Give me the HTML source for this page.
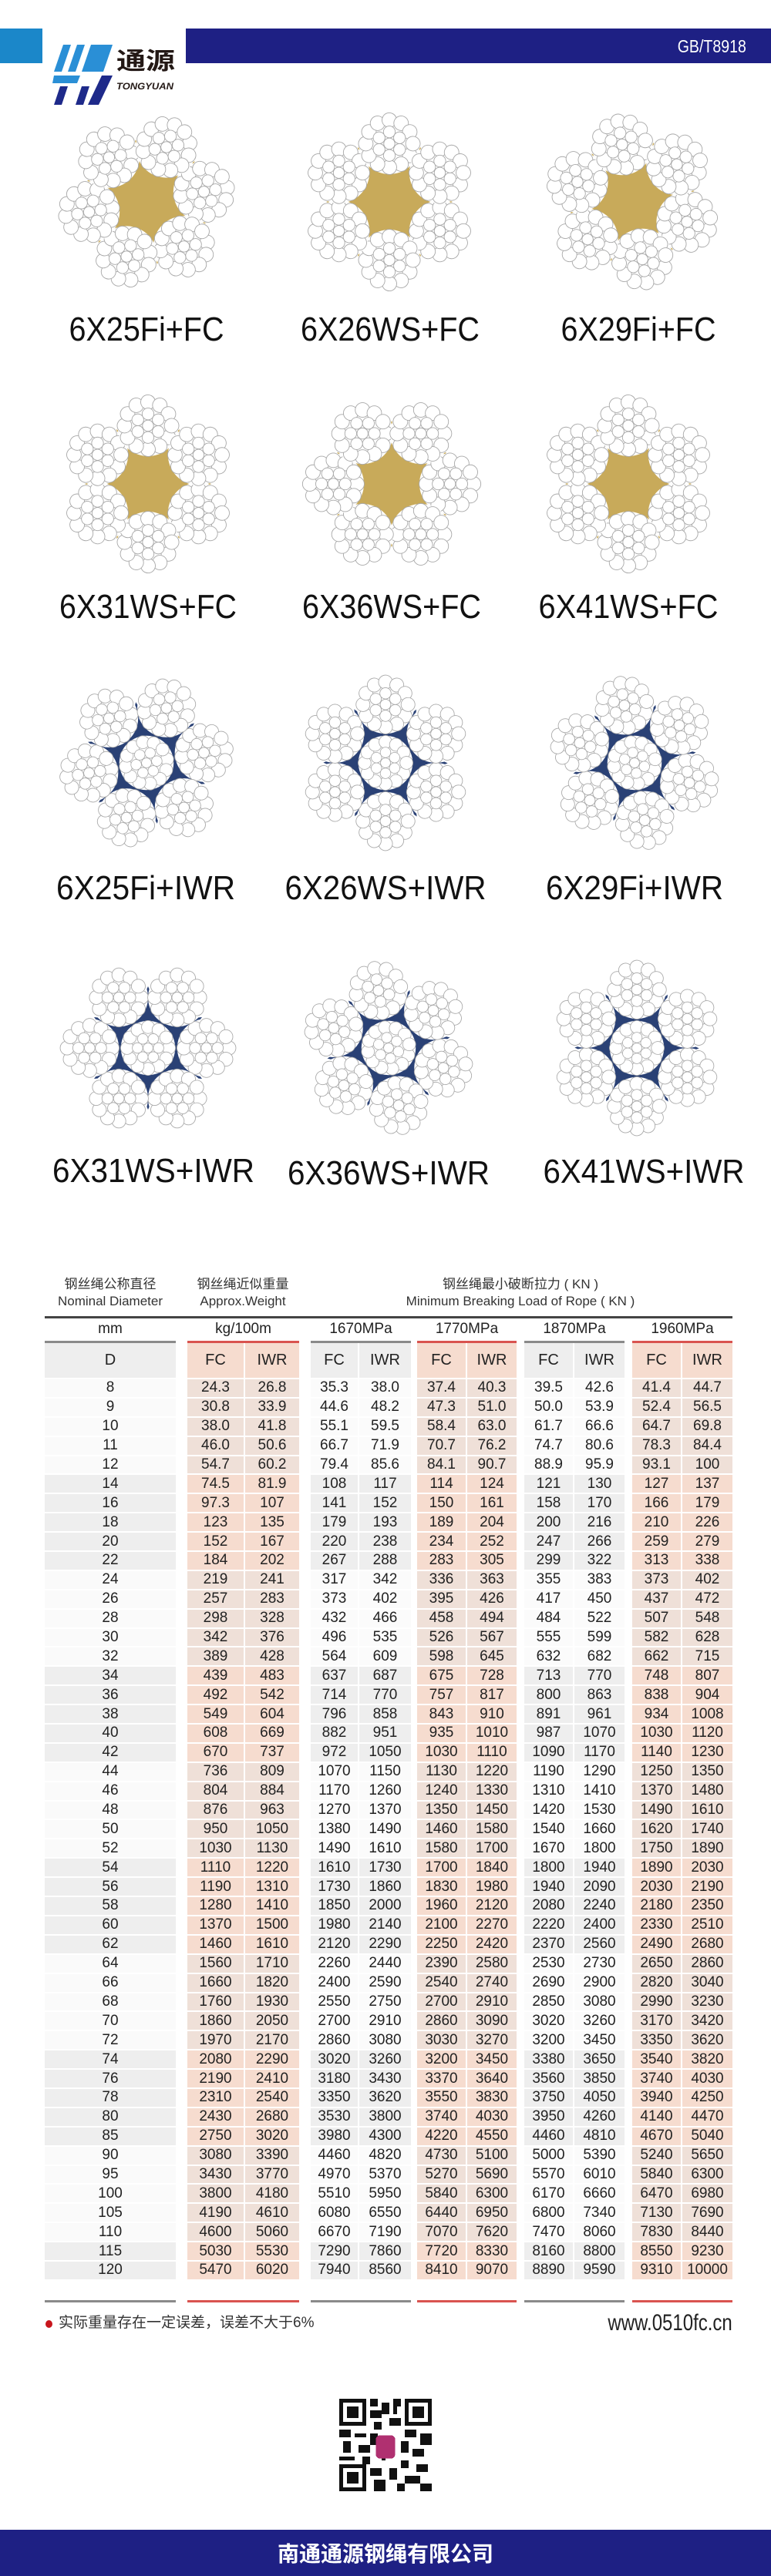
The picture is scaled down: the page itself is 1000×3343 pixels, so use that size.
<!DOCTYPE html>
<html><head><meta charset="utf-8">
<style>
*{margin:0;padding:0;box-sizing:border-box}
body{width:1000px;height:3343px;position:relative;background:#fff;font-family:"Liberation Sans","Noto Sans CJK SC",sans-serif;color:#222;overflow:hidden}
.abs{position:absolute}
.tb{position:absolute;top:1790px;left:0;width:1000px}
.r{height:24.9px;position:relative}
.r span{position:absolute;top:0;height:100%;display:flex;align-items:center;justify-content:center;font-size:19px;border-bottom:2px solid #fff;background:#efe0d8}
.r span:nth-child(1){left:58px;width:170px;background:#fafafa}
.r span:nth-child(2){left:243px;width:75px;border-right:2px solid #fff}
.r span:nth-child(3){left:318px;width:70px}
.r span:nth-child(4){left:403px;width:63px;border-right:2px solid #fff;background:#fbfbfb}
.r span:nth-child(5){left:466px;width:67px;background:#fbfbfb}
.r span:nth-child(6){left:541px;width:65px;border-right:2px solid #fff}
.r span:nth-child(7){left:606px;width:64px}
.r span:nth-child(8){left:680px;width:65px;border-right:2px solid #fff;background:#fbfbfb}
.r span:nth-child(9){left:745px;width:65px;background:#fbfbfb}
.r span:nth-child(10){left:820px;width:65px;border-right:2px solid #fff}
.r span:nth-child(11){left:885px;width:65px}
.r.b span{background:#f6dccf}
.r.b span:nth-child(1),.r.b span:nth-child(4),.r.b span:nth-child(5),.r.b span:nth-child(8),.r.b span:nth-child(9){background:#eeeeee}
.hd{height:47px}
.hd span{font-size:20px}
.ln{position:absolute;height:3px}
.g{background:#8a8a8a}.rd{background:#d9534f}
.ctr{position:absolute;text-align:center;white-space:nowrap}
</style></head><body>

<!-- header -->
<div class="abs" style="left:0;top:37px;width:55px;height:45px;background:#1b87c9"></div>
<div class="abs" style="left:241px;top:37px;width:759px;height:45px;background:#1e2084"></div>
<div class="abs" style="right:32px;top:47px;color:#fff;font-size:23px;line-height:26px;transform:scaleX(0.85);transform-origin:right">GB/T8918</div>
<svg class="abs" style="left:66px;top:28px" width="180" height="142">
 <polygon points="16,30 26,30 14,65 4,65" fill="#2a8fd6"/>
 <polygon points="34,30 44,30 32,65 22,65" fill="#2a8fd6"/>
 <polygon points="52,30 80,30 68,65 40,65" fill="#2a8fd6"/>
 <polygon points="4,70 38,70 34,80 2,80" fill="#2a8fd6"/>
 <polygon points="12,84 22,84 14,108 4,108" fill="#1e2a8a"/>
 <polygon points="40,84 50,84 42,108 32,108" fill="#1e2a8a"/>
 <polygon points="66,70 80,70 62,108 48,108" fill="#1e2a8a"/>
 <text x="85" y="62" font-family="Noto Sans CJK SC,sans-serif" font-weight="bold" font-size="31" fill="#231815" textLength="76" lengthAdjust="spacingAndGlyphs">通源</text>
 <text x="85" y="88" font-family="Liberation Sans,sans-serif" font-style="italic" font-weight="bold" font-size="12" fill="#231815" textLength="74" lengthAdjust="spacingAndGlyphs">TONGYUAN</text>
</svg>

<!-- ropes -->
<svg class="abs" style="left:0;top:0" width="1000" height="1560">
<defs>
 <g id="st" fill="#fff" stroke="#a8a8a8" stroke-width="1">
  <circle cx="0" cy="0" r="44" stroke="none"/>
  <circle cx="34" cy="0" r="10.5"/><circle cx="29.4" cy="17" r="10.5"/><circle cx="17" cy="29.4" r="10.5"/><circle cx="0" cy="34" r="10.5"/><circle cx="-17" cy="29.4" r="10.5"/><circle cx="-29.4" cy="17" r="10.5"/><circle cx="-34" cy="0" r="10.5"/><circle cx="-29.4" cy="-17" r="10.5"/><circle cx="-17" cy="-29.4" r="10.5"/><circle cx="0" cy="-34" r="10.5"/><circle cx="17" cy="-29.4" r="10.5"/><circle cx="29.4" cy="-17" r="10.5"/>
  <circle cx="17" cy="0" r="8.5"/><circle cx="8.5" cy="14.7" r="8.5"/><circle cx="-8.5" cy="14.7" r="8.5"/><circle cx="-17" cy="0" r="8.5"/><circle cx="-8.5" cy="-14.7" r="8.5"/><circle cx="8.5" cy="-14.7" r="8.5"/><circle cx="0" cy="0" r="8"/>
 </g>
 <g id="fc">
  <polygon points="71,41 20,35 0,82 -20,35 -71,41 -40,0 -71,-41 -20,-35 0,-82 20,-35 71,-41 40,0" fill="#c8aa5a"/>
  <g transform="scale(0.9)"><use href="#st" x="84" y="0"/><use href="#st" x="42" y="72.7"/><use href="#st" x="-42" y="72.7"/><use href="#st" x="-84" y="0"/><use href="#st" x="-42" y="-72.7"/><use href="#st" x="42" y="-72.7"/></g>
 </g>
 <g id="iwr">
  <polygon points="70,40 20,35 0,80 -20,35 -70,40 -40,0 -70,-40 -20,-35 0,-80 20,-35 70,-40 40,0" fill="#2a4175"/>
  <g transform="scale(0.8)"><use href="#st" x="0" y="0"/></g>
  <g transform="scale(0.86)"><use href="#st" x="88" y="0"/><use href="#st" x="44" y="76.2"/><use href="#st" x="-44" y="76.2"/><use href="#st" x="-88" y="0"/><use href="#st" x="-44" y="-76.2"/><use href="#st" x="44" y="-76.2"/></g>
 </g>
</defs>
<use href="#fc" transform="translate(190,262) rotate(-10)"/>
<use href="#fc" transform="translate(505,262) rotate(30)"/>
<use href="#fc" transform="translate(820,262) rotate(20)"/>
<use href="#fc" transform="translate(192,628) rotate(30)"/>
<use href="#fc" transform="translate(508,628)"/>
<use href="#fc" transform="translate(815,628) rotate(30)"/>
<use href="#iwr" transform="translate(190,990) rotate(-10)"/>
<use href="#iwr" transform="translate(500,990) rotate(30)"/>
<use href="#iwr" transform="translate(823,990) rotate(20)"/>
<use href="#iwr" transform="translate(192,1360)"/>
<use href="#iwr" transform="translate(504,1360) rotate(20)"/>
<use href="#iwr" transform="translate(826,1360) rotate(30)"/>
<g font-family="Liberation Sans,sans-serif" font-size="44" fill="#111" text-anchor="middle">
 <text x="190" y="442" textLength="201" lengthAdjust="spacingAndGlyphs">6X25Fi+FC</text>
 <text x="506" y="442" textLength="232" lengthAdjust="spacingAndGlyphs">6X26WS+FC</text>
 <text x="828" y="442" textLength="201" lengthAdjust="spacingAndGlyphs">6X29Fi+FC</text>
 <text x="192" y="802" textLength="230" lengthAdjust="spacingAndGlyphs">6X31WS+FC</text>
 <text x="508" y="802" textLength="232" lengthAdjust="spacingAndGlyphs">6X36WS+FC</text>
 <text x="815" y="802" textLength="233" lengthAdjust="spacingAndGlyphs">6X41WS+FC</text>
 <text x="189" y="1167" textLength="232" lengthAdjust="spacingAndGlyphs">6X25Fi+IWR</text>
 <text x="500" y="1167" textLength="261" lengthAdjust="spacingAndGlyphs">6X26WS+IWR</text>
 <text x="823" y="1167" textLength="230" lengthAdjust="spacingAndGlyphs">6X29Fi+IWR</text>
 <text x="199" y="1534" textLength="262" lengthAdjust="spacingAndGlyphs">6X31WS+IWR</text>
 <text x="504" y="1537" textLength="262" lengthAdjust="spacingAndGlyphs">6X36WS+IWR</text>
 <text x="835" y="1535" textLength="261" lengthAdjust="spacingAndGlyphs">6X41WS+IWR</text>
</g>
</svg>

<!-- table headings -->
<div class="ctr" style="left:58px;width:170px;top:1656px;font-size:17px;line-height:22px;color:#333">钢丝绳公称直径<br>Nominal Diameter</div>
<div class="ctr" style="left:235px;width:160px;top:1656px;font-size:17px;line-height:22px;color:#333">钢丝绳近似重量<br>Approx.Weight</div>
<div class="ctr" style="left:420px;width:510px;top:1656px;font-size:17px;line-height:22px;color:#333">钢丝绳最小破断拉力 ( KN )<br>Minimum Breaking Load of Rope ( KN )</div>
<div class="ln" style="left:58px;width:892px;top:1708px;background:#444"></div>
<div class="ctr" style="left:58px;width:170px;top:1714px;font-size:19px">mm</div>
<div class="ctr" style="left:243px;width:145px;top:1714px;font-size:19px">kg/100m</div>
<div class="ctr" style="left:403px;width:130px;top:1714px;font-size:19px">1670MPa</div>
<div class="ctr" style="left:541px;width:129px;top:1714px;font-size:19px">1770MPa</div>
<div class="ctr" style="left:680px;width:130px;top:1714px;font-size:19px">1870MPa</div>
<div class="ctr" style="left:820px;width:130px;top:1714px;font-size:19px">1960MPa</div>
<div class="ln g" style="left:58px;width:170px;top:1740px"></div>
<div class="ln rd" style="left:243px;width:145px;top:1740px"></div>
<div class="ln g" style="left:403px;width:130px;top:1740px"></div>
<div class="ln rd" style="left:541px;width:129px;top:1740px"></div>
<div class="ln g" style="left:680px;width:130px;top:1740px"></div>
<div class="ln rd" style="left:820px;width:130px;top:1740px"></div>
<div class="tb" style="top:1743px">
<div class="r b hd"><span>D</span><span>FC</span><span>IWR</span><span>FC</span><span>IWR</span><span>FC</span><span>IWR</span><span>FC</span><span>IWR</span><span>FC</span><span>IWR</span></div>
</div>

<div class="tb">
<div class="r"><span>8</span><span>24.3</span><span>26.8</span><span>35.3</span><span>38.0</span><span>37.4</span><span>40.3</span><span>39.5</span><span>42.6</span><span>41.4</span><span>44.7</span></div>
<div class="r"><span>9</span><span>30.8</span><span>33.9</span><span>44.6</span><span>48.2</span><span>47.3</span><span>51.0</span><span>50.0</span><span>53.9</span><span>52.4</span><span>56.5</span></div>
<div class="r"><span>10</span><span>38.0</span><span>41.8</span><span>55.1</span><span>59.5</span><span>58.4</span><span>63.0</span><span>61.7</span><span>66.6</span><span>64.7</span><span>69.8</span></div>
<div class="r"><span>11</span><span>46.0</span><span>50.6</span><span>66.7</span><span>71.9</span><span>70.7</span><span>76.2</span><span>74.7</span><span>80.6</span><span>78.3</span><span>84.4</span></div>
<div class="r"><span>12</span><span>54.7</span><span>60.2</span><span>79.4</span><span>85.6</span><span>84.1</span><span>90.7</span><span>88.9</span><span>95.9</span><span>93.1</span><span>100</span></div>
<div class="r b"><span>14</span><span>74.5</span><span>81.9</span><span>108</span><span>117</span><span>114</span><span>124</span><span>121</span><span>130</span><span>127</span><span>137</span></div>
<div class="r b"><span>16</span><span>97.3</span><span>107</span><span>141</span><span>152</span><span>150</span><span>161</span><span>158</span><span>170</span><span>166</span><span>179</span></div>
<div class="r b"><span>18</span><span>123</span><span>135</span><span>179</span><span>193</span><span>189</span><span>204</span><span>200</span><span>216</span><span>210</span><span>226</span></div>
<div class="r b"><span>20</span><span>152</span><span>167</span><span>220</span><span>238</span><span>234</span><span>252</span><span>247</span><span>266</span><span>259</span><span>279</span></div>
<div class="r b"><span>22</span><span>184</span><span>202</span><span>267</span><span>288</span><span>283</span><span>305</span><span>299</span><span>322</span><span>313</span><span>338</span></div>
<div class="r"><span>24</span><span>219</span><span>241</span><span>317</span><span>342</span><span>336</span><span>363</span><span>355</span><span>383</span><span>373</span><span>402</span></div>
<div class="r"><span>26</span><span>257</span><span>283</span><span>373</span><span>402</span><span>395</span><span>426</span><span>417</span><span>450</span><span>437</span><span>472</span></div>
<div class="r"><span>28</span><span>298</span><span>328</span><span>432</span><span>466</span><span>458</span><span>494</span><span>484</span><span>522</span><span>507</span><span>548</span></div>
<div class="r"><span>30</span><span>342</span><span>376</span><span>496</span><span>535</span><span>526</span><span>567</span><span>555</span><span>599</span><span>582</span><span>628</span></div>
<div class="r"><span>32</span><span>389</span><span>428</span><span>564</span><span>609</span><span>598</span><span>645</span><span>632</span><span>682</span><span>662</span><span>715</span></div>
<div class="r b"><span>34</span><span>439</span><span>483</span><span>637</span><span>687</span><span>675</span><span>728</span><span>713</span><span>770</span><span>748</span><span>807</span></div>
<div class="r b"><span>36</span><span>492</span><span>542</span><span>714</span><span>770</span><span>757</span><span>817</span><span>800</span><span>863</span><span>838</span><span>904</span></div>
<div class="r b"><span>38</span><span>549</span><span>604</span><span>796</span><span>858</span><span>843</span><span>910</span><span>891</span><span>961</span><span>934</span><span>1008</span></div>
<div class="r b"><span>40</span><span>608</span><span>669</span><span>882</span><span>951</span><span>935</span><span>1010</span><span>987</span><span>1070</span><span>1030</span><span>1120</span></div>
<div class="r b"><span>42</span><span>670</span><span>737</span><span>972</span><span>1050</span><span>1030</span><span>1110</span><span>1090</span><span>1170</span><span>1140</span><span>1230</span></div>
<div class="r"><span>44</span><span>736</span><span>809</span><span>1070</span><span>1150</span><span>1130</span><span>1220</span><span>1190</span><span>1290</span><span>1250</span><span>1350</span></div>
<div class="r"><span>46</span><span>804</span><span>884</span><span>1170</span><span>1260</span><span>1240</span><span>1330</span><span>1310</span><span>1410</span><span>1370</span><span>1480</span></div>
<div class="r"><span>48</span><span>876</span><span>963</span><span>1270</span><span>1370</span><span>1350</span><span>1450</span><span>1420</span><span>1530</span><span>1490</span><span>1610</span></div>
<div class="r"><span>50</span><span>950</span><span>1050</span><span>1380</span><span>1490</span><span>1460</span><span>1580</span><span>1540</span><span>1660</span><span>1620</span><span>1740</span></div>
<div class="r"><span>52</span><span>1030</span><span>1130</span><span>1490</span><span>1610</span><span>1580</span><span>1700</span><span>1670</span><span>1800</span><span>1750</span><span>1890</span></div>
<div class="r b"><span>54</span><span>1110</span><span>1220</span><span>1610</span><span>1730</span><span>1700</span><span>1840</span><span>1800</span><span>1940</span><span>1890</span><span>2030</span></div>
<div class="r b"><span>56</span><span>1190</span><span>1310</span><span>1730</span><span>1860</span><span>1830</span><span>1980</span><span>1940</span><span>2090</span><span>2030</span><span>2190</span></div>
<div class="r b"><span>58</span><span>1280</span><span>1410</span><span>1850</span><span>2000</span><span>1960</span><span>2120</span><span>2080</span><span>2240</span><span>2180</span><span>2350</span></div>
<div class="r b"><span>60</span><span>1370</span><span>1500</span><span>1980</span><span>2140</span><span>2100</span><span>2270</span><span>2220</span><span>2400</span><span>2330</span><span>2510</span></div>
<div class="r b"><span>62</span><span>1460</span><span>1610</span><span>2120</span><span>2290</span><span>2250</span><span>2420</span><span>2370</span><span>2560</span><span>2490</span><span>2680</span></div>
<div class="r"><span>64</span><span>1560</span><span>1710</span><span>2260</span><span>2440</span><span>2390</span><span>2580</span><span>2530</span><span>2730</span><span>2650</span><span>2860</span></div>
<div class="r"><span>66</span><span>1660</span><span>1820</span><span>2400</span><span>2590</span><span>2540</span><span>2740</span><span>2690</span><span>2900</span><span>2820</span><span>3040</span></div>
<div class="r"><span>68</span><span>1760</span><span>1930</span><span>2550</span><span>2750</span><span>2700</span><span>2910</span><span>2850</span><span>3080</span><span>2990</span><span>3230</span></div>
<div class="r"><span>70</span><span>1860</span><span>2050</span><span>2700</span><span>2910</span><span>2860</span><span>3090</span><span>3020</span><span>3260</span><span>3170</span><span>3420</span></div>
<div class="r"><span>72</span><span>1970</span><span>2170</span><span>2860</span><span>3080</span><span>3030</span><span>3270</span><span>3200</span><span>3450</span><span>3350</span><span>3620</span></div>
<div class="r b"><span>74</span><span>2080</span><span>2290</span><span>3020</span><span>3260</span><span>3200</span><span>3450</span><span>3380</span><span>3650</span><span>3540</span><span>3820</span></div>
<div class="r b"><span>76</span><span>2190</span><span>2410</span><span>3180</span><span>3430</span><span>3370</span><span>3640</span><span>3560</span><span>3850</span><span>3740</span><span>4030</span></div>
<div class="r b"><span>78</span><span>2310</span><span>2540</span><span>3350</span><span>3620</span><span>3550</span><span>3830</span><span>3750</span><span>4050</span><span>3940</span><span>4250</span></div>
<div class="r b"><span>80</span><span>2430</span><span>2680</span><span>3530</span><span>3800</span><span>3740</span><span>4030</span><span>3950</span><span>4260</span><span>4140</span><span>4470</span></div>
<div class="r b"><span>85</span><span>2750</span><span>3020</span><span>3980</span><span>4300</span><span>4220</span><span>4550</span><span>4460</span><span>4810</span><span>4670</span><span>5040</span></div>
<div class="r"><span>90</span><span>3080</span><span>3390</span><span>4460</span><span>4820</span><span>4730</span><span>5100</span><span>5000</span><span>5390</span><span>5240</span><span>5650</span></div>
<div class="r"><span>95</span><span>3430</span><span>3770</span><span>4970</span><span>5370</span><span>5270</span><span>5690</span><span>5570</span><span>6010</span><span>5840</span><span>6300</span></div>
<div class="r"><span>100</span><span>3800</span><span>4180</span><span>5510</span><span>5950</span><span>5840</span><span>6300</span><span>6170</span><span>6660</span><span>6470</span><span>6980</span></div>
<div class="r"><span>105</span><span>4190</span><span>4610</span><span>6080</span><span>6550</span><span>6440</span><span>6950</span><span>6800</span><span>7340</span><span>7130</span><span>7690</span></div>
<div class="r"><span>110</span><span>4600</span><span>5060</span><span>6670</span><span>7190</span><span>7070</span><span>7620</span><span>7470</span><span>8060</span><span>7830</span><span>8440</span></div>
<div class="r b"><span>115</span><span>5030</span><span>5530</span><span>7290</span><span>7860</span><span>7720</span><span>8330</span><span>8160</span><span>8800</span><span>8550</span><span>9230</span></div>
<div class="r b"><span>120</span><span>5470</span><span>6020</span><span>7940</span><span>8560</span><span>8410</span><span>9070</span><span>8890</span><span>9590</span><span>9310</span><span>10000</span></div>
</div>
<div class="ln g" style="left:58px;width:170px;top:2985px"></div>
<div class="ln rd" style="left:243px;width:145px;top:2985px"></div>
<div class="ln g" style="left:403px;width:130px;top:2985px"></div>
<div class="ln rd" style="left:541px;width:129px;top:2985px"></div>
<div class="ln g" style="left:680px;width:130px;top:2985px"></div>
<div class="ln rd" style="left:820px;width:130px;top:2985px"></div>

<!-- note -->
<div class="abs" style="left:59px;top:3011px;width:9px;height:10px;border-radius:50%;background:#c8161d"></div>
<div class="abs" style="left:76px;top:3002px;font-size:19px;line-height:26px;color:#333">实际重量存在一定误差，误差不大于6%</div>
<div class="abs" style="right:50px;top:2998px;font-size:30px;line-height:34px;color:#222;transform:scaleX(0.8);transform-origin:right">www.0510fc.cn</div>

<!-- QR -->
<svg class="abs" style="left:440px;top:3113px" width="120" height="120" viewBox="0 0 24 24" shape-rendering="crispEdges">
 <rect width="24" height="24" fill="#fff"/>
 <g fill="#111">
  <rect x="0" y="0" width="7" height="7"/><rect x="17" y="0" width="7" height="7"/><rect x="0" y="17" width="7" height="7"/>
 </g>
 <g fill="#fff"><rect x="1" y="1" width="5" height="5"/><rect x="18" y="1" width="5" height="5"/><rect x="1" y="18" width="5" height="5"/></g>
 <g fill="#111"><rect x="2" y="2" width="3" height="3"/><rect x="19" y="2" width="3" height="3"/><rect x="2" y="19" width="3" height="3"/>
  <path d="M8 0h2v2h-2zM11 1h2v3h-2zM14 0h2v2h-2zM8 3h3v2h-3zM13 5h3v2h-3zM9 6h2v2h-2zM0 8h3v2h-3zM4 9h3v1h-3zM8 9h2v3h-2zM17 8h3v2h-3zM21 9h3v3h-3zM1 11h2v3h-2zM5 12h3v2h-3zM16 11h2v3h-2zM19 13h3v2h-3zM0 15h4v1h-4zM6 15h2v2h-2zM16 16h2v2h-2zM20 17h3v2h-3zM8 18h3v2h-3zM13 18h2v3h-2zM17 20h4v2h-4zM9 21h3v3h-3zM15 22h2v2h-2zM21 22h3v2h-3zM11 14h1v2h-1zM14 2h1v2h-1z"/>
 </g>
 <rect x="9.5" y="9.5" width="5" height="6" rx="1" fill="#b03070"/>
</svg>

<!-- footer -->
<div class="abs" style="left:0;top:3283px;width:1000px;height:60px;background:#1e2084"></div>
<div class="ctr" style="left:0;width:1000px;top:3297px;font-size:28px;line-height:32px;color:#fff;font-weight:bold;font-family:'Noto Sans CJK SC',sans-serif">南通通源钢绳有限公司</div>
</body></html>
